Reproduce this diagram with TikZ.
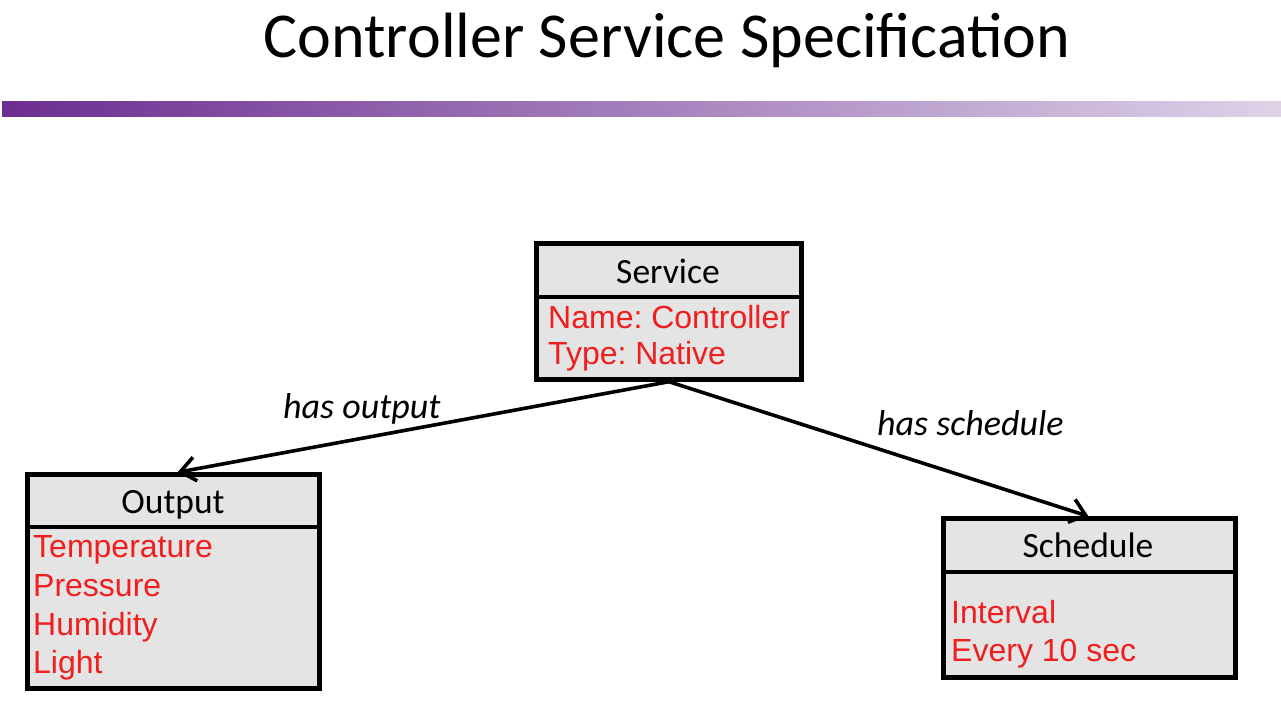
\documentclass[tikz,border=0pt]{standalone}
\usepackage{fontspec}
\setmainfont{Carlito}
\newfontfamily\arialf{Liberation Sans}
\usetikzlibrary{arrows.meta}
\frenchspacing
\definecolor{boxfill}{RGB}{228,228,228}
\definecolor{redtxt}{RGB}{240,30,30}
\definecolor{barleft}{RGB}{108,46,145}
\definecolor{barright}{RGB}{222,210,232}
\tikzset{
  umlbox/.style={draw=black, line width=4.4pt, fill=boxfill, rectangle, inner sep=0pt},
  divider/.style={line width=4.2pt},
  headtext/.style={font=\fontsize{35.5}{38}\selectfont, anchor=base, inner sep=0pt},
  attrtext/.style={font=\arialf\fontsize{32}{35}\selectfont, text=redtxt, anchor=base west, inner sep=0pt},
  reltext/.style={font=\itshape\fontsize{36}{39}\selectfont, anchor=base west, inner sep=0pt},
  relarrow/.style={line width=3.6pt, -{Straight Barb[length=15pt,width=24pt,line width=3.6pt]}},
}
\begin{document}
\begin{tikzpicture}[x=1pt,y=-1pt]
\useasboundingbox[fill=white] (0,0) rectangle (1281,707);
% title
\node[font=\fontsize{64}{70}\selectfont, anchor=base, inner sep=0pt] (title) at (667,57) {Controller Service Specification};
% gradient bar
\shade[left color=barleft, right color=barright] (2,101) rectangle (1281,116);

% Service box
\node[umlbox, minimum width=265pt, minimum height=136pt] (service) at (669,311.5) {};
\draw[divider] (service.west |- 0,297) -- (service.east |- 0,297);
\node[headtext] (servicehead) at (668,283) {Service};
\node[attrtext] (svcname) at (548,328) {Name: Controller};
\node[attrtext] (svctype) at (548,364) {Type: Native};

% Output box
\node[umlbox, minimum width=292pt, minimum height=214pt] (output) at (173.5,581.5) {};
\draw[divider] (output.west |- 0,527) -- (output.east |- 0,527);
\node[headtext] (outhead) at (173,513) {Output};
\node[attrtext] (o1) at (33,557) {Temperature};
\node[attrtext] (o2) at (33,596) {Pressure};
\node[attrtext] (o3) at (33,635) {Humidity};
\node[attrtext] (o4) at (33,673) {Light};

% Schedule box
\node[umlbox, minimum width=292pt, minimum height=159pt] (schedule) at (1089.5,598) {};
\draw[divider] (schedule.west |- 0,572) -- (schedule.east |- 0,572);
\node[headtext] (schedhead) at (1088,557) {Schedule};
\node[attrtext] (s1) at (951,623) {Interval};
\node[attrtext] (s2) at (951,661) {Every 10 sec};

% relations
\draw[relarrow] (service.south) -- ([xshift=4pt]output.north);
\draw[relarrow] (service.south) -- ([xshift=-1pt]schedule.north);
\node[reltext] (lout) at (283,418) {has output};
\node[reltext] (lsched) at (877,435) {has schedule};
\end{tikzpicture}
\end{document}
